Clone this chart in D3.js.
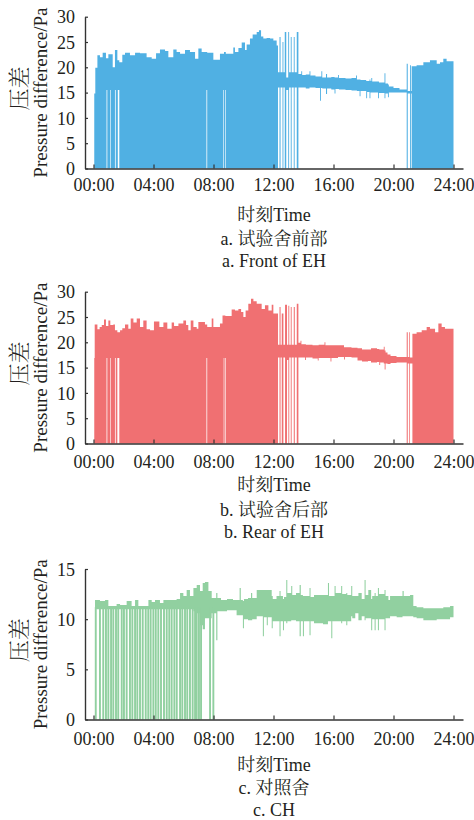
<!DOCTYPE html>
<html><head><meta charset="utf-8">
<script src="https://cdn.jsdelivr.net/npm/d3@7"></script>
<style>
html,body{margin:0;padding:0;background:#fff;}
svg text{font-family:"Liberation Serif","Noto Serif CJK SC","Noto Sans CJK SC",serif;fill:#231f20;}
</style></head><body>
<svg id="chart" width="474" height="820"></svg>
<script>
// ---- data: rows are [time (h), upper value (Pa), lower value (Pa)], each held until the next row ----
const timeTicks = [0, 4, 8, 12, 16, 20, 24];
const tickLabels = ["00:00", "04:00", "08:00", "12:00", "16:00", "20:00", "24:00"];
const yTicksEH = [0, 5, 10, 15, 20, 25, 30];
const yTicksCH = [0, 5, 10, 15];

const frontEH = [
 [0.05,14.8,0],[0.12,19.9,0],[0.26,22.4,0],[0.43,22.0,0],[0.61,22.9,0],[0.83,21.8,0],
 [0.87,21.8,15.5],[0.92,21.8,0],[0.99,22.6,0],[1.12,22.6,15.5],[1.16,22.6,0],[1.28,20.0,0],
 [1.43,23.4,15.5],[1.48,23.4,0],[1.59,21.4,0],[1.62,21.4,15.5],[1.72,21.0,0],[1.92,22.5,0],
 [2.10,22.9,0],[2.43,22.4,0],[2.77,22.9,0],[3.10,22.8,0],[3.54,22.0,0],[3.88,21.7,0],
 [4.17,22.8,0],[4.43,23.5,0],[4.77,23.2,0],[4.99,22.0,0],[5.32,23.5,0],[5.54,23.0,0],
 [5.77,22.7,0],[6.10,23.4,0],[6.43,23.0,0],[6.77,21.7,0],[6.99,23.7,0],[7.21,23.0,0],
 [7.53,23.0,15.5],[7.58,22.9,0],[7.99,21.5,0],[8.43,22.7,0],[8.66,22.7,15.5],[8.70,23.0,0],
 [8.78,23.0,15.5],[8.82,22.7,0],[9.32,23.9,0],[9.43,23.0,0],[9.66,23.8,0],[9.88,24.9,0],
 [10.10,23.4,0],[10.21,24.5,0],[10.43,25.7,0],[10.61,26.5,0],[10.88,27.0,0],[11.03,27.3,0],
 [11.17,26.1,0],[11.32,25.7,0],[11.54,25.8,0],[11.77,25.7,0],[11.99,25.3,0],[12.21,24.3,0],
 [12.30,19.0,16.0],[12.40,26.0,0],[12.47,19.0,16.0],[12.60,25.0,0],[12.66,19.0,16.0],
 [12.75,27.0,0],[12.85,18.0,15.5],[12.98,27.0,0],[13.04,19.0,16.0],[13.15,26.0,0],
 [13.21,19.0,16.0],[13.35,26.0,0],[13.41,19.0,16.0],[13.55,27.0,0],
 [13.66,18.7,16.0],[13.85,19.2,16.0],[13.91,18.5,16.0],[14.15,18.6,15.8],
 [14.40,19.2,16.0],[14.46,18.4,16.0],[14.80,18.2,15.9],
 [15.10,18.2,13.4],[15.16,18.2,15.9],[15.19,19.2,15.9],[15.25,18.0,15.8],
 [15.50,18.7,14.7],[15.57,18.0,15.8],[15.85,18.1,15.6],
 [16.07,18.0,14.8],[16.13,18.0,15.7],[16.30,18.5,15.7],[16.36,17.9,15.6],
 [16.80,17.8,15.5],[17.20,17.9,15.4],[17.50,18.4,15.4],[17.56,17.6,15.3],
 [17.74,17.6,14.3],[17.80,17.5,15.3],[18.18,17.3,13.9],[18.24,17.3,15.1],
 [18.40,17.6,13.9],[18.46,17.3,15.0],[18.52,17.9,15.0],[18.58,17.2,15.0],
 [18.97,17.2,13.9],[19.03,17.0,14.9],[19.40,18.8,13.9],[19.46,16.8,14.8],
 [19.63,16.6,14.1],[19.69,16.2,15.0],[20.00,15.9,15.0],[20.40,15.6,15.0],
 [20.88,20.7,0],[20.95,15.3,14.8],[21.10,20.4,0],[21.16,15.3,14.8],
 [21.21,20.2,0],[21.54,20.4,0],[21.99,21.0,0],[22.43,21.4,0],[22.88,20.7,0],[23.10,21.0,0],
 [23.32,21.7,0],[23.54,21.2,0],[24.00,21.2,0]
];

const rearEH = [
 [0.05,16.9,0],[0.08,23.5,0],[0.26,22.6,0],[0.41,23.0,0],[0.55,23.4,0],[0.70,24.5,0],
 [0.83,23.2,0],[0.87,23.2,16.9],[0.92,23.2,0],[0.99,24.3,0],[1.12,23.4,16.9],[1.16,23.4,0],
 [1.32,23.5,0],[1.43,22.4,16.9],[1.48,22.4,0],[1.59,22.0,16.9],[1.72,22.0,0],[1.77,22.4,0],
 [1.92,22.8,0],[2.10,23.5,0],[2.32,22.7,0],[2.48,24.7,0],[2.66,23.9,0],[2.88,24.7,0],
 [3.10,23.0,0],[3.32,24.3,0],[3.54,22.6,0],[3.77,22.4,0],[4.03,24.1,0],[4.39,23.0,0],
 [4.66,23.9,0],[4.92,22.7,0],[5.21,23.9,0],[5.37,23.2,0],[5.66,23.7,0],[5.99,24.3,0],
 [6.17,23.4,0],[6.32,22.4,0],[6.48,24.3,0],[6.66,23.0,0],[6.88,22.7,0],[6.99,24.0,0],
 [7.43,23.5,0],[7.53,23.5,16.9],[7.58,23.0,0],[7.88,24.7,0],[7.99,23.0,0],[8.43,23.7,0],
 [8.60,25.3,0],[8.68,25.3,16.9],[8.72,25.3,0],[8.79,25.2,16.9],[8.83,25.2,0],[9.21,26.5,0],
 [9.43,26.3,0],[9.66,26.6,0],[9.84,26.0,0],[9.99,25.0,0],[10.14,26.3,0],[10.32,27.6,0],
 [10.50,28.6,0],[10.66,28.1,0],[10.88,27.6,0],[11.21,26.6,0],[11.43,27.3,0],[11.66,26.3,0],
 [11.88,27.4,0],[11.99,25.7,0],[12.21,25.7,0],
 [12.30,19.5,17.0],[12.40,27.0,0],[12.47,19.5,17.0],[12.55,25.7,0],[12.66,19.5,17.0],
 [12.77,27.4,0],[12.90,19.5,16.5],[12.99,27.2,0],[13.05,19.5,17.0],[13.15,27.0,0],
 [13.21,19.5,17.0],[13.35,27.0,0],[13.42,19.5,17.0],[13.55,27.6,0],
 [13.66,19.9,17.0],[13.80,20.3,17.0],[13.86,19.6,17.0],[14.10,19.6,16.5],[14.16,19.5,17.0],
 [14.60,19.4,16.8],[14.95,19.4,16.4],[15.01,19.5,16.9],[15.40,20.0,16.9],[15.46,19.4,16.9],
 [15.80,19.4,16.2],[15.86,19.4,16.9],[16.30,19.4,17.1],[16.70,19.0,16.6],[16.76,19.0,17.1],
 [17.20,18.9,17.0],[17.60,18.8,16.4],[17.90,18.6,16.2],[18.30,18.6,16.3],[18.50,18.8,16.0],
 [18.90,18.7,16.1],[19.05,18.6,15.5],[19.11,18.6,16.0],[19.35,19.1,15.8],[19.41,18.4,14.6],
 [19.47,18.0,15.8],[19.60,17.6,15.7],[19.80,17.3,15.9],[20.20,17.1,16.0],
 [20.88,22.0,0],[20.95,17.1,15.8],[21.05,22.0,0],[21.10,17.0,15.8],[21.26,21.7,0],
 [21.54,22.0,0],[21.88,22.4,0],[22.21,23.0,0],[22.43,22.7,0],[22.77,22.0,0],[22.99,23.7,0],
 [23.21,23.0,0],[23.43,22.7,0],[23.66,22.7,0],[24.00,22.7,0]
];

const controlCH = [
 [0.10,11.9,11.0],[0.43,11.8,11.0],[0.77,11.9,11.0],[0.99,11.3,11.0],[1.54,11.5,11.0],
 [1.77,11.4,11.0],[2.21,11.8,11.0],[2.54,11.3,11.0],[2.77,11.9,11.0],[2.99,11.3,11.0],
 [3.66,11.9,11.0],[3.88,11.7,11.0],[4.10,11.9,11.0],[4.43,11.6,11.0],[4.66,11.9,11.0],
 [4.99,11.9,11.0],[5.54,12.0,11.0],[5.77,12.6,11.0],[5.99,12.3,11.0],[6.21,12.9,11.0],
 [6.43,12.3,11.0],[6.66,13.1,10.8],[6.88,13.4,10.6],[7.10,12.8,9.4],[7.28,13.6,9.0],
 [7.43,13.7,10.1],[7.66,12.8,10.1],[7.88,12.1,10.6],
 [8.18,12.6,7.9],[8.26,12.1,10.8],[8.50,11.9,10.8],[8.90,12.0,10.9],[9.30,11.9,10.9],
 [9.54,11.9,10.4],[9.74,13.1,10.4],[9.82,11.9,10.4],[9.96,11.8,9.1],[10.03,12.0,10.0],
 [10.30,12.1,9.9],[10.50,12.6,9.9],[10.58,12.1,10.0],[10.88,12.9,10.3],
 [11.29,12.9,8.3],[11.36,12.9,10.2],[11.55,12.9,9.4],[11.62,12.9,10.2],
 [11.88,12.3,9.1],[11.95,12.0,9.8],[12.20,12.3,9.8],[12.40,12.8,8.3],[12.47,12.3,9.8],
 [12.63,12.0,8.9],[12.70,12.2,9.8],[12.85,13.9,9.6],[12.92,12.6,9.8],
 [13.18,13.3,9.9],[13.25,12.4,9.9],[13.50,12.6,9.8],[13.74,13.4,8.3],[13.82,12.4,9.8],
 [13.96,12.3,8.3],[14.03,12.3,9.8],[14.40,13.1,8.4],[14.47,12.2,9.8],[14.70,12.4,9.6],
 [15.30,12.4,9.5],[15.63,13.6,9.8],[15.70,12.3,9.8],[15.85,12.3,8.1],[15.92,12.3,9.8],
 [16.07,13.3,9.8],[16.14,12.6,9.8],[16.51,13.3,9.6],[16.58,12.5,9.8],
 [16.85,12.6,9.4],[16.92,12.4,9.8],[17.18,13.3,10.3],[17.25,12.3,10.1],
 [17.45,12.3,10.6],[17.66,12.6,9.9],[17.88,12.0,10.3],[18.07,13.9,9.9],[18.14,12.4,10.1],
 [18.32,12.9,10.1],[18.51,12.0,8.9],[18.58,12.3,10.0],[18.74,12.6,8.9],[18.81,12.3,10.0],
 [18.96,13.1,8.9],[19.03,12.5,10.0],[19.40,12.9,8.9],[19.47,12.3,10.1],
 [19.66,11.9,10.1],[19.77,12.3,10.3],[20.21,12.3,10.2],[20.60,12.8,10.3],[20.68,12.3,10.3],
 [21.10,12.4,10.3],[21.32,11.3,10.2],[21.54,11.2,10.1],[21.99,11.1,9.9],[22.43,11.1,9.9],
 [22.88,11.1,10.0],[23.32,11.2,10.0],[23.77,11.3,10.2],[24.00,11.3,10.2]
];
// times (h) at which the control-house reading drops to 0 Pa
const controlDrops = [0.15,0.43,0.65,0.83,0.99,1.17,1.32,1.50,1.65,1.88,2.03,2.21,2.43,2.59,
 2.77,2.92,3.10,3.28,3.48,3.65,3.81,3.99,4.15,4.32,4.50,4.70,4.88,5.05,5.21,5.39,5.55,5.77,
 5.92,6.10,6.25,6.43,6.61,6.77,6.88,7.03,7.17,7.77,7.99];
const controlDropTop = 11.2;

const panels = [
 {rows: frontEH, color: "#50b0e3", yMax: 30, yTicks: yTicksEH, top: 16.7, bottom: 168.5,
  cap1: "a. 试验舍前部", cap2: "a. Front of EH", off: [22, 52, 76, 98]},
 {rows: rearEH, color: "#f07072", yMax: 30, yTicks: yTicksEH, top: 291.7, bottom: 443.5,
  cap1: "b. 试验舍后部", cap2: "b. Rear of EH", off: [24, 47, 72, 94]},
 {rows: controlCH, color: "#91d0a0", yMax: 15, yTicks: yTicksCH, top: 569, bottom: 719.5,
  cap1: "c. 对照舍", cap2: "c. CH", off: [25, 51, 74, 96], drops: controlDrops}
];

const svg = d3.select("#chart");
const x = d3.scaleLinear().domain([-0.567, 24.633]).range([85, 463]);
const serif = '"Liberation Serif",serif';
const cjk = '"Liberation Serif","Noto Serif CJK SC","Noto Sans CJK SC",serif';

panels.forEach(p => {
  const y = d3.scaleLinear().domain([0, p.yMax]).range([p.bottom, p.top]);
  const g = svg.append("g");
  const area = d3.area()
    .x(d => x(d[0])).y0(d => y(d[2])).y1(d => y(d[1]))
    .curve(d3.curveStepAfter);
  g.append("path").datum(p.rows).attr("d", area).attr("fill", p.color);
  if (p.drops) {
    g.selectAll("rect.drop").data(p.drops).enter().append("rect")
      .attr("x", d => x(d) - 0.95).attr("width", 1.9)
      .attr("y", y(controlDropTop)).attr("height", y(0) - y(controlDropTop))
      .attr("fill", p.color);
  }
  const xa = g.append("g").attr("transform", `translate(0,${p.bottom})`)
    .call(d3.axisBottom(x).tickValues(timeTicks).tickFormat((d, i) => tickLabels[i])
      .tickSizeInner(-4).tickSizeOuter(0).tickPadding(0));
  const ya = g.append("g").attr("transform", `translate(85,0)`)
    .call(d3.axisLeft(y).tickValues(p.yTicks).tickSizeInner(-3).tickSizeOuter(0).tickPadding(10));
  [xa, ya].forEach(a => {
    a.select(".domain").attr("stroke", "#333").attr("stroke-width", 1.4);
    a.selectAll(".tick line").attr("stroke", "#333").attr("stroke-width", 1.2);
    a.selectAll("text").attr("font-size", 18).attr("fill", "#231f20")
      .style("font-family", serif);
  });
  xa.selectAll("text").attr("dy", null).attr("y", p.off[0]);
  ya.selectAll("text").attr("dy", "0.34em");

  const cx = (85 + 463) / 2;
  const cy = (p.top + p.bottom) / 2;
  g.append("text").attr("x", cx).attr("y", p.bottom + p.off[1]).attr("text-anchor", "middle")
    .attr("font-size", 18).style("font-family", cjk).text("时刻Time");
  g.append("text").attr("x", cx).attr("y", p.bottom + p.off[2]).attr("text-anchor", "middle")
    .attr("font-size", 18).style("font-family", cjk).text(p.cap1);
  g.append("text").attr("x", cx).attr("y", p.bottom + p.off[3]).attr("text-anchor", "middle")
    .attr("font-size", 18).style("font-family", serif).text(p.cap2);
  g.append("text").attr("transform", `translate(27,${cy - 4}) rotate(-90)`)
    .attr("text-anchor", "middle").attr("font-size", 22).style("font-family", cjk)
    .style("font-weight", 300).text("压差");
  g.append("text").attr("transform", `translate(46.5,${cy}) rotate(-90)`)
    .attr("text-anchor", "middle").attr("font-size", 19).style("font-family", serif)
    .text("Pressure difference/Pa");
});
</script></body></html>
